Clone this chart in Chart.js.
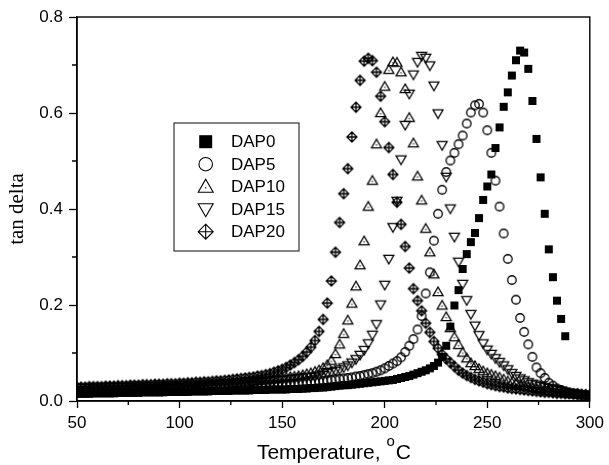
<!DOCTYPE html>
<html><head><meta charset="utf-8">
<script src="https://cdn.jsdelivr.net/npm/chart.js@4.4.1/dist/chart.umd.min.js"></script>
<style>html,body{margin:0;padding:0;background:#fff}</style>
</head><body>
<canvas id="c" width="609" height="465"></canvas>
<script>
const temperatures = [
50,52,54,56,58,60,62,64,66,68,
70,72,74,76,78,80,82,84,86,88,
90,92,94,96,98,100,102,104,106,108,
110,112,114,116,118,120,122,124,126,128,
130,132,134,136,138,140,142,144,146,148,
150,152,154,156,158,160,162,164,166,168,
170,172,174,176,178,180,182,184,186,188,
190,192,194,196,198,200,202,204,206,208,
210,212,214,216,218,220,222,224,226,228,
230,232,234,236,238,240,242,244,246,248,
250,252,254,256,258,260,262,264,266,268,
270,272,274,276,278,280,282,284,286,288,
290,292,294,296,298,300];

const seriesNames = ['DAP0','DAP5','DAP10','DAP15','DAP20'];

const dap0 = [
0.015,0.015,0.015,0.015,0.016,0.016,0.016,0.016,0.016,0.016,
0.017,0.017,0.017,0.017,0.017,0.017,0.018,0.018,0.018,0.018,
0.018,0.018,0.019,0.019,0.019,0.019,0.019,0.019,0.020,0.020,
0.020,0.020,0.020,0.021,0.021,0.021,0.021,0.021,0.022,0.022,
0.022,0.022,0.022,0.023,0.023,0.023,0.023,0.024,0.024,0.024,
0.024,0.024,0.025,0.025,0.025,0.026,0.026,0.027,0.027,0.028,
0.028,0.029,0.030,0.031,0.032,0.033,0.033,0.034,0.035,0.036,
0.037,0.038,0.039,0.040,0.041,0.042,0.043,0.044,0.046,0.048,
0.050,0.052,0.055,0.058,0.061,0.064,0.068,0.073,0.080,0.092,
0.115,0.155,0.199,0.231,0.275,0.306,0.331,0.350,0.381,0.419,
0.447,0.472,0.527,0.570,0.613,0.643,0.678,0.710,0.730,0.726,
0.692,0.625,0.546,0.466,0.390,0.316,0.258,0.209,0.171,0.135,
null,null,null,null,null,null];

const dap5 = [
0.021,0.021,0.021,0.021,0.022,0.022,0.022,0.022,0.022,0.023,
0.023,0.023,0.023,0.023,0.024,0.024,0.024,0.024,0.024,0.025,
0.025,0.025,0.025,0.025,0.026,0.026,0.026,0.026,0.027,0.027,
0.027,0.027,0.028,0.028,0.028,0.029,0.029,0.029,0.030,0.030,
0.030,0.031,0.031,0.031,0.032,0.032,0.033,0.033,0.034,0.034,
0.035,0.035,0.036,0.036,0.037,0.038,0.038,0.039,0.040,0.041,
0.042,0.043,0.044,0.045,0.046,0.047,0.048,0.049,0.051,0.052,
0.054,0.056,0.058,0.061,0.064,0.068,0.073,0.078,0.083,0.091,
0.102,0.115,0.129,0.149,0.177,0.224,0.268,0.334,0.390,0.440,
0.477,0.501,0.517,0.535,0.553,0.578,0.601,0.616,0.619,0.601,
0.564,0.517,0.459,0.405,0.349,0.296,0.252,0.211,0.173,0.144,
0.118,0.092,0.070,0.058,0.048,0.038,0.032,0.026,0.023,0.020,
0.017,0.015,0.014,0.012,0.012,0.011];

const dap10 = [
0.025,0.025,0.025,0.025,0.026,0.026,0.026,0.026,0.026,0.027,
0.027,0.027,0.027,0.028,0.028,0.028,0.028,0.029,0.029,0.029,
0.029,0.030,0.030,0.030,0.031,0.031,0.031,0.032,0.032,0.032,
0.033,0.033,0.034,0.034,0.035,0.035,0.036,0.036,0.037,0.038,
0.038,0.039,0.040,0.041,0.042,0.043,0.044,0.045,0.046,0.047,
0.048,0.049,0.050,0.051,0.052,0.054,0.056,0.058,0.061,0.064,
0.069,0.075,0.084,0.098,0.118,0.140,0.168,0.203,0.239,0.283,
0.333,0.405,0.459,0.535,0.600,0.655,0.690,0.706,0.705,0.685,
0.650,0.590,0.537,0.468,0.418,0.359,0.310,0.264,0.227,0.199,
0.175,0.152,0.133,0.117,0.101,0.089,0.079,0.073,0.067,0.062,
0.058,0.055,0.052,0.049,0.045,0.041,0.038,0.036,0.033,0.031,
0.029,0.027,0.025,0.024,0.022,0.021,0.020,0.019,0.018,0.017,
0.016,0.015,0.015,0.014,0.013,0.013];

const dap15 = [
0.027,0.027,0.027,0.027,0.028,0.028,0.028,0.028,0.028,0.029,
0.029,0.029,0.029,0.029,0.030,0.030,0.030,0.030,0.031,0.031,
0.031,0.031,0.032,0.032,0.032,0.033,0.033,0.033,0.034,0.034,
0.034,0.035,0.035,0.036,0.036,0.036,0.037,0.037,0.038,0.038,
0.039,0.039,0.040,0.040,0.041,0.041,0.042,0.042,0.043,0.044,
0.044,0.045,0.046,0.047,0.048,0.049,0.050,0.050,0.051,0.053,
0.055,0.058,0.061,0.063,0.066,0.070,0.074,0.080,0.087,0.096,
0.106,0.120,0.138,0.160,0.201,0.242,0.296,0.362,0.417,0.503,
0.575,0.640,0.680,0.706,0.719,0.715,0.699,0.657,0.599,0.533,
0.467,0.401,0.342,0.290,0.244,0.210,0.181,0.157,0.137,0.120,
0.107,0.098,0.089,0.081,0.074,0.066,0.058,0.052,0.047,0.043,
0.039,0.036,0.034,0.031,0.029,0.027,0.025,0.023,0.021,0.019,
0.017,0.016,0.014,0.013,0.012,0.012];

const dap20 = [
0.029,0.029,0.029,0.030,0.030,0.030,0.030,0.031,0.031,0.031,
0.032,0.032,0.032,0.033,0.033,0.033,0.034,0.034,0.034,0.035,
0.035,0.035,0.036,0.036,0.036,0.037,0.037,0.038,0.038,0.039,
0.039,0.040,0.040,0.041,0.042,0.042,0.043,0.044,0.045,0.046,
0.047,0.048,0.049,0.050,0.052,0.053,0.055,0.057,0.060,0.063,
0.066,0.070,0.075,0.080,0.086,0.093,0.102,0.112,0.126,0.145,
0.170,0.204,0.250,0.310,0.372,0.432,0.484,0.550,0.612,0.668,
0.708,0.714,0.709,0.685,0.635,0.582,0.528,0.472,0.414,0.368,
0.322,0.277,0.234,0.209,0.188,0.162,0.143,0.124,0.110,0.097,
0.088,0.080,0.072,0.064,0.058,0.053,0.049,0.045,0.042,0.039,
0.036,0.034,0.032,0.030,0.029,0.027,0.026,0.025,0.024,0.023,
0.022,0.021,0.020,0.019,0.018,0.018,0.017,0.016,0.016,0.015,
0.015,0.014,0.014,0.013,0.013,0.012];

const xTicks = [50,100,150,200,250,300];
const xMinorTicks = [75,125,175,225,275];
const yTicks = [0.0,0.2,0.4,0.6,0.8];
const yMinorTicks = [0.1,0.3,0.5,0.7];

const seriesValues = [dap0, dap5, dap10, dap15, dap20];
const symbolKinds = ['square','circle','up','down','diamond'];

function drawSymbol(ctx, kind, cx, cy, s, lw) {
  ctx.save();
  ctx.strokeStyle = '#000';
  ctx.fillStyle = '#000';
  ctx.lineWidth = lw;
  const h = s / 2;
  ctx.beginPath();
  if (kind === 'square') {
    ctx.fillRect(cx - h, cy - h, s, s);
  } else if (kind === 'circle') {
    ctx.arc(cx, cy, h, 0, Math.PI * 2);
    ctx.stroke();
  } else if (kind === 'up') {
    ctx.moveTo(cx, cy - h);
    ctx.lineTo(cx + h, cy + h * 0.73);
    ctx.lineTo(cx - h, cy + h * 0.73);
    ctx.closePath();
    ctx.stroke();
    ctx.fillRect(cx - 0.6, cy + h * 0.15 - 0.6, 1.2, 1.2);
  } else if (kind === 'down') {
    ctx.moveTo(cx, cy + h);
    ctx.lineTo(cx + h, cy - h * 0.73);
    ctx.lineTo(cx - h, cy - h * 0.73);
    ctx.closePath();
    ctx.stroke();
  } else if (kind === 'diamond') {
    ctx.moveTo(cx, cy - h);
    ctx.lineTo(cx + h, cy);
    ctx.lineTo(cx, cy + h);
    ctx.lineTo(cx - h, cy);
    ctx.closePath();
    ctx.moveTo(cx, cy - h); ctx.lineTo(cx, cy + h);
    ctx.moveTo(cx - h, cy); ctx.lineTo(cx + h, cy);
    ctx.stroke();
  }
  ctx.restore();
}

const pointSizes = {square: 8, circle: 8.5, up: 10, down: 10, diamond: 10};
const legendSizes = {square: 13, circle: 13.5, up: 15, down: 15, diamond: 15};

function makePointImage(kind) {
  const cv = document.createElement('canvas');
  cv.width = 14; cv.height = 14;
  drawSymbol(cv.getContext('2d'), kind, 7, 7, pointSizes[kind], 1.3);
  return cv;
}

const framePlugin = {
  id: 'frame',
  afterDraw(chart) {
    const ctx = chart.ctx;
    const a = chart.chartArea;
    const xs = chart.scales.x, ys = chart.scales.y;
    ctx.save();
    ctx.strokeStyle = '#000';
    ctx.lineWidth = 1.4;
    ctx.strokeRect(a.left, a.top, a.right - a.left, a.bottom - a.top);
    ctx.lineWidth = 1.3;
    ctx.beginPath();
    xMinorTicks.forEach(v => {
      const px = xs.getPixelForValue(v);
      ctx.moveTo(px, a.bottom); ctx.lineTo(px, a.bottom + 4);
    });
    yMinorTicks.forEach(v => {
      const py = ys.getPixelForValue(v);
      ctx.moveTo(a.left, py); ctx.lineTo(a.left - 5, py);
    });
    ctx.stroke();

    ctx.fillStyle = '#000';
    ctx.save();
    ctx.translate(23, (a.top + a.bottom) / 2);
    ctx.rotate(-Math.PI / 2);
    ctx.font = '21px "Liberation Serif", "Times New Roman", serif';
    ctx.textAlign = 'center';
    ctx.textBaseline = 'alphabetic';
    ctx.fillText('tan delta', 0, 0);
    ctx.restore();

    const mainFont = '21px "Liberation Sans", Arial, sans-serif';
    const supFont = '15px "Liberation Sans", Arial, sans-serif';
    const t1 = 'Temperature, ', t2 = 'o', t3 = 'C';
    ctx.font = mainFont; const w1 = ctx.measureText(t1).width; const w3 = ctx.measureText(t3).width;
    ctx.font = supFont; const w2 = ctx.measureText(t2).width;
    let x0 = (a.left + a.right) / 2 - (w1 + w2 + w3) / 2;
    ctx.textAlign = 'left';
    ctx.textBaseline = 'alphabetic';
    ctx.font = mainFont; ctx.fillText(t1, x0, 459);
    ctx.font = supFont; ctx.fillText(t2, x0 + w1, 446);
    ctx.font = mainFont; ctx.fillText(t3, x0 + w1 + w2 + 1, 459);

    const bx = 174, by = 123, bw = 125, bh = 128;
    ctx.fillStyle = '#fff';
    ctx.fillRect(bx, by, bw, bh);
    ctx.strokeStyle = '#333';
    ctx.lineWidth = 1.2;
    ctx.strokeRect(bx, by, bw, bh);
    ctx.font = '17px "Liberation Sans", Arial, sans-serif';
    ctx.textBaseline = 'middle';
    ctx.textAlign = 'left';
    chart.data.datasets.forEach((ds, i) => {
      const cy = 141.7 + i * 22.5;
      drawSymbol(ctx, symbolKinds[i], 205.7, cy, legendSizes[symbolKinds[i]], 1.1);
      ctx.fillStyle = '#000';
      ctx.fillText(ds.label, 231, cy + 1);
    });
    ctx.restore();
  }
};

const datasets = seriesNames.map((name, k) => ({
  label: name,
  data: temperatures.map((t, i) => ({x: t, y: seriesValues[k][i]})).filter(p => p.y !== null),
  pointStyle: makePointImage(symbolKinds[k]),
  pointRadius: 5,
  showLine: false
}));

const tickFont = {family: '"Liberation Sans", Arial, sans-serif', size: 17};

new Chart(document.getElementById('c').getContext('2d'), {
  type: 'scatter',
  data: {datasets},
  options: {
    responsive: false,
    animation: false,
    devicePixelRatio: 1,
    layout: {padding: {top: 17, right: 16, left: 0, bottom: 0}},
    plugins: {legend: {display: false}, tooltip: {enabled: false}},
    scales: {
      x: {
        type: 'linear', min: 50, max: 300,
        afterBuildTicks: s => { s.ticks = xTicks.map(v => ({value: v})); },
        ticks: {font: tickFont, color: '#000', padding: 5, maxRotation: 0, autoSkip: false,
                callback: v => String(v)},
        grid: {drawOnChartArea: false, drawTicks: true, tickLength: 7, tickColor: '#000', tickWidth: 1.3},
        border: {display: true, color: '#000', width: 1.4},
        afterFit: s => { s.height = 64; }
      },
      y: {
        type: 'linear', min: 0, max: 0.8,
        afterBuildTicks: s => { s.ticks = yTicks.map(v => ({value: v})); },
        ticks: {font: tickFont, color: '#000', padding: 6, autoSkip: false,
                callback: v => Number(v).toFixed(1)},
        grid: {drawOnChartArea: false, drawTicks: true, tickLength: 8, tickColor: '#000', tickWidth: 1.3},
        border: {display: true, color: '#000', width: 1.4},
        afterFit: s => { s.width = 77; }
      }
    }
  },
  plugins: [framePlugin]
});
</script>
</body></html>
